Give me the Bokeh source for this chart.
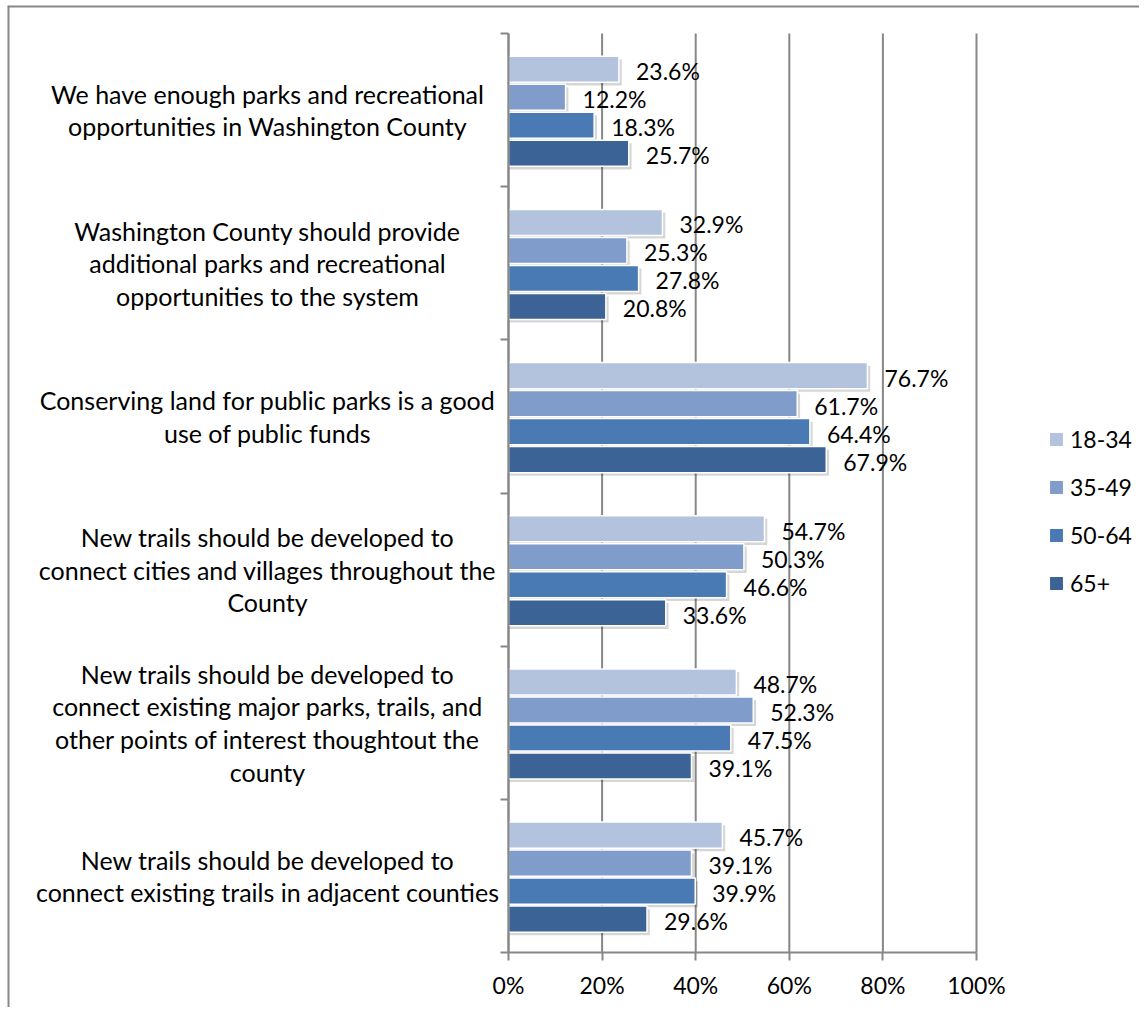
from bokeh.plotting import figure
from bokeh.models import (Range1d, FixedTicker, PrintfTickFormatter, ColumnDataSource,
                          Legend, LegendItem, Span)
from bokeh.core.properties import value
from bokeh.embed import file_html
from bokeh.resources import INLINE

categories = [
    "We have enough parks and recreational\nopportunities in Washington County",
    "Washington County should provide\nadditional parks and recreational\nopportunities to the system",
    "Conserving land for public parks is a good\nuse of public funds",
    "New trails should be developed to\nconnect cities and villages throughout the\nCounty",
    "New trails should be developed to\nconnect existing major parks, trails, and\nother points of interest thoughtout the\ncounty",
    "New trails should be developed to\nconnect existing trails in adjacent counties",
]
groups = ["18-34", "35-49", "50-64", "65+"]
v_18_34 = [23.6, 32.9, 76.7, 54.7, 48.7, 45.7]
v_35_49 = [12.2, 25.3, 61.7, 50.3, 52.3, 39.1]
v_50_64 = [18.3, 27.8, 64.4, 46.6, 47.5, 39.9]
v_65_plus = [25.7, 20.8, 67.9, 33.6, 39.1, 29.6]
x_ticks = [0, 20, 40, 60, 80, 100]

series = [v_18_34, v_35_49, v_50_64, v_65_plus]
colors = ["#B3C3DE", "#7F9CCA", "#4A7AB4", "#3B6395"]

FONT = value("Lato")
FS = "23px"
FS_CAT = "25px"
GRAY = "#878787"
n = len(categories)

# ---- layout (pixels) ----
W, H = 1139, 1007
FRAME_L, FRAME_T = 7, 5          # chart border corner
X0_PX, X100_PX = 508, 976        # where 0% and 100% sit
CAT_TOP_PX, CAT_BOT_PX = 33, 952 # category band extent
px_per_pct = (X100_PX - X0_PX) / 100.0
px_per_cat = (CAT_BOT_PX - CAT_TOP_PX) / n
x_start = -(X0_PX - FRAME_L) / px_per_pct
x_end = 100 + (W - X100_PX) / px_per_pct
y_top = -(CAT_TOP_PX - FRAME_T) / px_per_cat
y_bottom = n + (H - CAT_BOT_PX) / px_per_cat

p = figure(width=W, height=H, x_range=Range1d(x_start, x_end), y_range=Range1d(y_bottom, y_top),
           output_backend="svg", toolbar_location=None, y_axis_location="right",
           min_border_left=FRAME_L, min_border_right=0,
           min_border_top=FRAME_T, min_border_bottom=0)
p.title.visible = False
p.outline_line_color = None
p.background_fill_color = "white"
p.border_fill_color = "white"
p.xgrid.visible = False
p.ygrid.visible = False

# chart border (top and left edges)
p.add_layout(Span(location=x_start, dimension="height", line_color="#888888", line_width=4))
p.add_layout(Span(location=y_top, dimension="width", line_color="#888888", line_width=4))

# vertical gridlines across the category area
p.segment(x0=x_ticks, y0=[0] * len(x_ticks), x1=x_ticks, y1=[n] * len(x_ticks),
          line_color=GRAY, line_width=2)

# x axis drawn at the bottom of the category area
xa = p.xaxis[0]
xa.fixed_location = n
xa.ticker = FixedTicker(ticks=x_ticks)
xa.bounds = (x_ticks[0], x_ticks[-1])
xa.formatter = PrintfTickFormatter(format="%d%%")
xa.axis_line_color = GRAY
xa.axis_line_width = 2
xa.major_tick_line_color = GRAY
xa.major_tick_line_width = 2
xa.major_tick_in = 0
xa.major_tick_out = 8
xa.minor_tick_line_color = None
xa.major_label_text_font = "Lato"
xa.major_label_text_font_size = FS
xa.major_label_text_color = "black"
xa.major_label_standoff = 10

# y axis drawn at x = 0 (category boundaries)
ya = p.yaxis[0]
ya.fixed_location = 0
ya.bounds = (0, n)
ya.ticker = FixedTicker(ticks=list(range(n + 1)))
ya.major_label_overrides = {i: "" for i in range(n + 1)}
ya.axis_line_color = GRAY
ya.axis_line_width = 2
ya.major_tick_line_color = GRAY
ya.major_tick_line_width = 2
ya.major_tick_in = 8
ya.major_tick_out = 0
ya.minor_tick_line_color = None

pitch = 0.1828
bar_h = 0.17
dx_sh = 0.6
dy_sh = 0.02

items = []
for s, (vals, col, g) in enumerate(zip(series, colors, groups)):
    ys = [i + 0.5 + (s - 1.5) * pitch + 0.008 for i in range(n)]
    src = ColumnDataSource(dict(y=ys, v=vals,
                                vs=[v + dx_sh for v in vals],
                                ysh=[y + dy_sh for y in ys],
                                lbl=[f"{v:.1f}%" for v in vals]))
    p.hbar(y="ysh", left=0, right="vs", height=bar_h, source=src,
           fill_color="black", fill_alpha=0.16, line_color=None)
    r = p.hbar(y="y", left=0, right="v", height=bar_h, source=src,
               fill_color=col, line_color="white", line_width=1.5)
    items.append(LegendItem(label=g, renderers=[r]))
    p.text(x="v", y="y", text="lbl", source=src, x_offset=17, y_offset=2,
           text_font=FONT, text_font_size=FS, text_color="black",
           text_baseline="middle", text_align="left")

# category labels
csrc = ColumnDataSource(dict(x=[0] * n, y=[i + 0.5 for i in range(n)], t=categories))
p.text(x="x", y="y", text="t", source=csrc, x_offset=-241, y_offset=0,
       text_font=FONT, text_font_size=FS_CAT, text_color="black",
       text_align="center", text_baseline="middle", text_line_height=1.09)

legend = Legend(items=items, location=(1047 - FRAME_L, H - 597))
legend.border_line_color = None
legend.background_fill_alpha = 0
legend.padding = 0
legend.margin = 0
legend.spacing = 20
legend.glyph_width = 18
legend.glyph_height = 18
legend.label_height = 25
legend.label_standoff = 5
legend.label_text_font = "Lato"
legend.label_text_font_size = FS
legend.label_text_color = "black"
legend.label_text_baseline = "middle"
p.add_layout(legend)

open("out.html", "w").write(file_html(p, INLINE))
